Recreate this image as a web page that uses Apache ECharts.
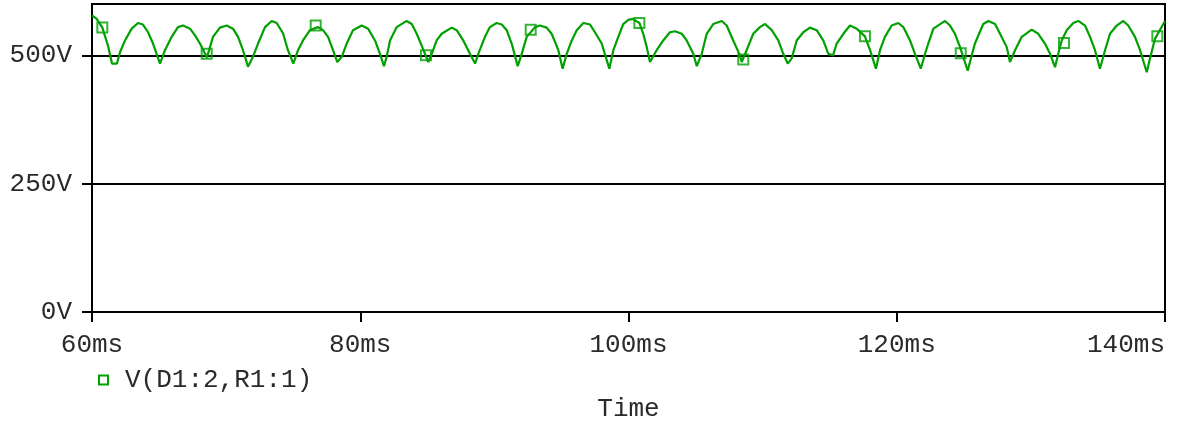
<!DOCTYPE html>
<html>
<head>
<meta charset="utf-8">
<script src="https://cdn.jsdelivr.net/npm/echarts@6/dist/echarts.min.js"></script>
<style>
html,body{margin:0;padding:0;background:#fff;}
#chart{width:1180px;height:423px;}
</style>
</head>
<body>
<div id="chart"></div>
<script>
// Time (ms) and voltage (V) of the trace
const timeMs = [60.0,60.35,60.77,61.19,61.49,61.86,62.09,62.46,62.96,63.43,63.80,64.18,64.55,65.07,65.44,65.94,66.41,66.78,67.31,67.68,68.05,68.57,69.02,69.54,70.04,70.51,70.89,71.26,71.63,72.00,72.38,72.90,73.40,73.77,74.24,74.61,75.01,75.36,75.73,76.25,76.85,77.22,77.60,77.97,78.29,78.62,78.99,79.46,80.11,80.58,81.10,81.47,81.77,81.97,82.22,82.72,83.46,83.84,84.21,84.58,85.07,85.33,85.70,86.07,86.82,87.19,87.68,88.18,88.56,88.80,89.30,89.67,90.17,90.55,90.92,91.29,91.74,92.04,92.41,93.03,93.40,93.90,94.27,94.77,95.09,95.39,95.77,96.14,96.63,97.13,97.50,98.00,98.57,98.87,99.24,99.61,99.99,100.31,100.81,101.10,101.36,101.60,102.10,102.59,103.09,103.47,103.97,104.34,104.83,105.09,105.46,105.83,106.32,106.95,107.32,107.81,108.31,108.44,108.81,109.30,109.80,110.18,110.68,111.17,111.54,111.87,112.17,112.54,113.03,113.53,114.03,114.52,114.90,115.02,115.25,115.52,116.02,116.51,117.01,117.63,118.01,118.45,118.75,119.12,119.62,120.12,120.49,120.99,121.36,121.79,122.11,122.35,122.73,123.60,123.97,124.34,124.72,125.29,125.59,125.83,126.45,126.83,127.33,127.70,128.20,128.44,128.82,129.32,130.06,130.55,131.05,131.43,131.80,132.04,132.30,132.67,133.16,133.54,134.04,134.41,134.78,135.15,135.53,135.90,136.40,136.89,137.26,137.76,138.14,138.64,138.88,139.25,140.0];
const voltV = [578,571,554,519,484,484,506,529,552,563,560,545,523,484,510,536,555,558,552,539,523,496,536,554,558,552,536,510,478,497,523,555,567,563,543,510,484,510,529,549,555,549,536,510,487,497,523,549,558,552,529,503,479,497,529,555,567,561,542,519,487,503,529,542,554,549,529,503,484,503,536,555,563,560,549,523,479,503,536,555,558,554,542,510,474,503,529,549,563,560,545,523,474,510,536,561,569,571,563,542,516,487,510,529,545,547,542,529,503,479,503,542,561,567,558,529,500,487,510,542,555,561,549,529,503,484,494,529,545,554,549,529,503,500,500,523,542,558,552,537,510,474,510,536,558,563,555,529,503,474,503,523,552,567,558,542,516,470,500,523,561,567,561,542,516,487,510,536,550,542,523,503,477,503,529,549,563,567,558,536,510,474,510,542,558,567,558,536,510,467,494,532,567];
// Marker positions along the trace
const markerTimeMs = [60.77,68.55,76.68,84.90,92.71,100.81,108.56,117.63,124.77,132.47,139.43];
const markerVoltV = [554,503,558,500,550,563,492,537,504,524,537];
// Axis ticks
const xTicks = [60,80,100,120,140];
const yTicks = [0,250,500];
const seriesName = 'V(D1:2,R1:1)';

const green = '#00a000';
const font = '"Liberation Mono","DejaVu Sans Mono",monospace';
const textColor = '#2a2a2a';

const lineData = timeMs.map((t,i)=>[t, voltV[i]]);
const markerData = markerTimeMs.map((t,i)=>[t, markerVoltV[i]]);

const chart = echarts.init(document.getElementById('chart'), null, {renderer:'canvas'});
chart.setOption({
  animation:false,
  backgroundColor:'#fff',
  grid:{left:92,right:15,top:4,bottom:111,show:true,borderColor:'#000',borderWidth:2,containLabel:false,outerBoundsMode:'none'},
  legend:{
    left:93, top:362, orient:'horizontal',
    itemWidth:9, itemHeight:9,
    data:[{name:seriesName, icon:'rect', itemStyle:{color:'rgba(0,0,0,0)', borderColor:green, borderWidth:2}}],
    textStyle:{fontFamily:font, fontSize:26, color:textColor, padding:[0,0,0,12]}
  },
  xAxis:{
    type:'value', min:60, max:140, interval:20,
    axisLine:{show:true, onZero:false, lineStyle:{color:'#000', width:2}},
    axisTick:{show:true, inside:false, length:10, lineStyle:{color:'#000', width:2}, customValues:xTicks},
    axisLabel:{margin:20, fontFamily:font, fontSize:26, color:textColor, customValues:xTicks, alignMaxLabel:'right', formatter:v=>v+'ms'},
    splitLine:{show:false},
    name:'Time', nameLocation:'middle', nameGap:84,
    nameTextStyle:{fontFamily:font, fontSize:26, color:textColor}
  },
  yAxis:{
    type:'value', min:0, max:600, interval:250,
    axisLine:{show:true, lineStyle:{color:'#000', width:2}},
    axisTick:{show:true, length:10, lineStyle:{color:'#000', width:2}, customValues:yTicks},
    axisLabel:{margin:20, fontFamily:font, fontSize:26, color:textColor, customValues:yTicks, formatter:v=>v+'V'},
    splitLine:{show:true, lineStyle:{color:'#000', width:2}}
  },
  series:[
    {name:seriesName, type:'line', data:lineData, showSymbol:false, symbol:'none',
     lineStyle:{color:green, width:2.2}, itemStyle:{color:green}, z:3},
    {name:seriesName, type:'scatter', data:markerData, symbol:'rect', symbolSize:10,
     itemStyle:{color:'rgba(0,0,0,0)', borderColor:green, borderWidth:2}, z:4}
  ]
});
</script>
</body>
</html>
